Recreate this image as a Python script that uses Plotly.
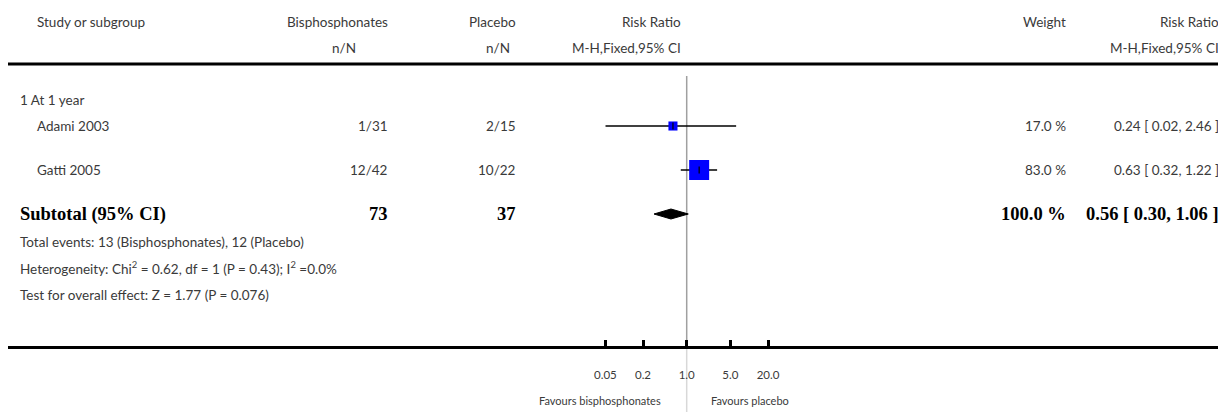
import plotly.graph_objects as go
import math

# ---------------- data ----------------
studies = ["Adami 2003", "Gatti 2005"]
events_bis = [1, 12]
total_bis = [31, 42]
events_pla = [2, 10]
total_pla = [15, 22]
rr = [0.24, 0.63]
ci_lo = [0.02, 0.32]
ci_hi = [2.46, 1.22]
weights = [17.0, 83.0]

sub_rr = 0.56
sub_lo = 0.30
sub_hi = 1.06
sub_total_bis = 73
sub_total_pla = 37
sub_weight = 100.0

group_label = "1 At 1 year"
footer_lines = [
    "Total events: 13 (Bisphosphonates), 12 (Placebo)",
    "Heterogeneity: Chi<sup>2</sup> = 0.62, df = 1 (P = 0.43); I<sup>2</sup> =0.0%",
    "Test for overall effect: Z = 1.77 (P = 0.076)",
]
tick_vals = [0.05, 0.2, 1, 5, 20]
tick_text = ["0.05", "0.2", "1.0", "5.0", "20.0"]
favours_left = "Favours bisphosphonates"
favours_right = "Favours placebo"

# ---------------- layout constants ----------------
PAGE_W, PAGE_H = 1226, 412
OFF = 8                                  # default page body margin
W, H = PAGE_W - OFF, PAGE_H - OFF        # figure size
FONT = "Lato, 'Open Sans', sans-serif"
SERIF = "'Liberation Serif', 'DejaVu Serif', serif"
TXT = "#3a3a3a"
FS = 13.5
BFS = 18.5

# vertical positions (page pixels)
y_head1, y_head2, y_rule = 22, 48, 64
y_group = 100
y_study = [126, 170]
y_sub = 214
y_foot = [242, 268, 295]
y_axis = 347

x_one_px = 686.7 - OFF    # figure pixel of RR = 1
px_per_dec = 62.5
lo_log = -x_one_px / px_per_dec
hi_log = lo_log + W / px_per_dec
study_shift = 0.4         # study markers appear offset in the source image

fig = go.Figure()

# reference vertical line at RR = 1
fig.add_trace(go.Scatter(x=[1, 1], y=[76, y_axis], mode="lines",
                         line=dict(color="#a0a0a0", width=1.5),
                         hoverinfo="skip", showlegend=False))
fig.add_trace(go.Scatter(x=[1, 1], y=[y_axis, PAGE_H], mode="lines",
                         line=dict(color="#d8d8d8", width=1.5),
                         hoverinfo="skip", showlegend=False))

# CI lines for the studies
cx, cy = [], []
for lo, hi, yy in zip(ci_lo, ci_hi, y_study):
    cx += [lo, hi, None]
    cy += [yy, yy, None]
fig.add_trace(go.Scatter(x=cx, y=cy, mode="lines", xaxis="x2",
                         line=dict(color="black", width=1.5),
                         hoverinfo="skip", showlegend=False))
# weighted squares
sizes = [20 * math.sqrt(w / max(weights)) for w in weights]
fig.add_trace(go.Scatter(x=rr, y=y_study, mode="markers", xaxis="x2",
                         marker=dict(symbol="square", size=sizes, color="#0000ff",
                                     opacity=1, line=dict(width=0)),
                         hoverinfo="skip", showlegend=False))
fig.add_trace(go.Scatter(x=rr, y=y_study, mode="markers", xaxis="x2",
                         marker=dict(symbol="line-ns", size=5, opacity=1,
                                     line=dict(color="black", width=1.2)),
                         hoverinfo="skip", showlegend=False))

# subtotal diamond
dh = 5
fig.add_trace(go.Scatter(x=[sub_lo, sub_rr, sub_hi, sub_rr, sub_lo],
                         y=[y_sub, y_sub - dh, y_sub, y_sub + dh, y_sub],
                         mode="lines", fill="toself", fillcolor="black",
                         line=dict(color="black", width=1),
                         hoverinfo="skip", showlegend=False))

ann = []


def txt(x, y, s, anchor="left", size=FS, font=FONT, color=TXT):
    ann.append(dict(x=(x - OFF) / W, y=y, xref="paper", yref="y", text=s,
                    showarrow=False, xanchor=anchor, yanchor="middle",
                    font=dict(family=font, size=size, color=color)))


BIS_R, PLA_R = 390, 518
RR1_R, WT_R, RR2_R = 683, 1068, 1221

# headers
txt(35, y_head1, "Study or subgroup")
txt(BIS_R, y_head1, "Bisphosphonates", "right")
txt(BIS_R - 32, y_head2, "n/N", "right")
txt(PLA_R, y_head1, "Placebo", "right")
txt(PLA_R - 6, y_head2, "n/N", "right")
txt(RR1_R, y_head1, "Risk Ratio", "right")
txt(RR1_R, y_head2, "M-H,Fixed,95% CI", "right")
txt(WT_R, y_head1, "Weight", "right")
txt(RR2_R, y_head1, "Risk Ratio", "right")
txt(RR2_R, y_head2, "M-H,Fixed,95% CI", "right")

txt(18, y_group, group_label)
for i, s in enumerate(studies):
    yy = y_study[i]
    txt(35, yy, s)
    txt(BIS_R, yy, f"{events_bis[i]}/{total_bis[i]}", "right")
    txt(PLA_R, yy, f"{events_pla[i]}/{total_pla[i]}", "right")
    txt(WT_R, yy, f"{weights[i]:.1f} %", "right")
    txt(RR2_R, yy, f"{rr[i]:.2f} [ {ci_lo[i]:.2f}, {ci_hi[i]:.2f} ]", "right")

txt(18, y_sub, "<b>Subtotal (95% CI)</b>", size=BFS, font=SERIF, color="black")
txt(BIS_R, y_sub, f"<b>{sub_total_bis}</b>", "right", BFS, SERIF, "black")
txt(PLA_R, y_sub, f"<b>{sub_total_pla}</b>", "right", BFS, SERIF, "black")
txt(WT_R, y_sub, f"<b>{sub_weight:.1f} %</b>", "right", BFS, SERIF, "black")
txt(RR2_R, y_sub, f"<b>{sub_rr:.2f} [ {sub_lo:.2f}, {sub_hi:.2f} ]</b>", "right",
    BFS, SERIF, "black")

for s, yy in zip(footer_lines, y_foot):
    txt(18, yy, s)

txt(663, 400, favours_left, "right", 11)
txt(709, 400, favours_right, "left", 11)

fig.update_layout(
    width=W, height=H, margin=dict(l=0, r=0, t=0, b=0, pad=0),
    paper_bgcolor="white", plot_bgcolor="white",
    annotations=ann,
    shapes=[dict(type="line", xref="paper", yref="y", x0=0, x1=1,
                 y0=y_rule, y1=y_rule, line=dict(color="black", width=3))],
    xaxis=dict(type="log", range=[lo_log, hi_log], domain=[0, 1],
               anchor="free", position=1 - (y_axis - OFF) / H,
               showline=True, linecolor="black", linewidth=3,
               ticks="inside", ticklen=6, tickwidth=2.5, tickcolor="black",
               tickvals=tick_vals, ticktext=tick_text,
               tickfont=dict(family=FONT, size=11.5, color=TXT),
               ticklabelstandoff=16,
               showgrid=False, zeroline=False, fixedrange=True),
    xaxis2=dict(type="log", range=[lo_log - study_shift, hi_log - study_shift],
                overlaying="x", visible=False, fixedrange=True),
    yaxis=dict(range=[PAGE_H, OFF], domain=[0, 1], visible=False, fixedrange=True),
    showlegend=False,
)

fig.write_html("out.html")
